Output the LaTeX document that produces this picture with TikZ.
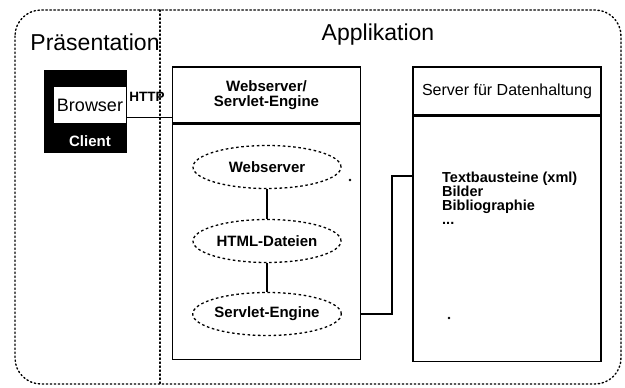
\documentclass[tikz,border=0pt]{standalone}
\usepackage{fontspec}
\setmainfont{Liberation Sans}
\usetikzlibrary{shapes.geometric}

\tikzset{
    outerline/.style={line width=1.4pt, dash pattern=on 1.4pt off 2.6pt, line cap=round},
    tierbox/.style={draw, line width=1.6pt, minimum width=188pt, inner sep=0pt, align=center,
        font=\bfseries\fontsize{15}{15}\selectfont},
    part/.style={draw, ellipse, line width=1.3pt, dash pattern=on 2.6pt off 2.6pt,
        minimum width=148pt, minimum height=43pt, inner sep=0pt, font=\bfseries\fontsize{15}{17}\selectfont},
    tiertitle/.style={anchor=base, inner sep=0pt, font=\fontsize{23}{26}\selectfont},
    link/.style={line width=1.3pt}
}

\begin{document}
\begin{tikzpicture}[x=1pt, y=-1pt]
        \useasboundingbox (0,0) rectangle (625,388);

        % Outer frame and the two tiers
        \draw[outerline, rounded corners=26pt] (15,10) rectangle (621,384);
        \draw[outerline] (160,10) -- (160,384);
        \node[tiertitle] (praes) at (95,50) {Präsentation};
        \node[tiertitle] (appl) at (378,40) {Applikation};

        % Client with browser
        \node[fill=black, minimum width=83pt, minimum height=83pt, inner sep=0pt] (client) at (85.5,111.5) {};
        \node[fill=white, minimum width=72pt, minimum height=36pt, inner sep=0pt,
            font=\fontsize{18}{20}\selectfont] (browser) at (90,105) {Browser};
        \node[text=white, font=\bfseries\fontsize{15}{17}\selectfont] (clientlbl) at (90,141) {Client};

        % Webserver box
        \node[tierbox, minimum height=56pt] (webhead) at (266.5,95) {Webserver/\\Servlet-Engine};
        \node[tierbox, minimum height=235pt, anchor=north] (webbody) at (webhead.south) {};
        \node[part] (ws) at (267,167) {Webserver};
        \node[part] (html) at (267,241) {HTML-Dateien};
        \node[part] (servlet) at (267,314) {Servlet-Engine};

        % Server box
        \node[tierbox, minimum height=48pt, font=\fontsize{16}{16}\selectfont] (srvhead) at (507,91) {Server für Datenhaltung};
        \node[tierbox, minimum height=245pt, anchor=north] (srvbody) at (srvhead.south) {};
        \node[anchor=north west, align=left, inner sep=0pt,
            font=\bfseries\fontsize{14.5}{14}\selectfont] (data) at (442,172)
            {Textbausteine (xml)\\Bilder\\Bibliographie\\...};

        % Connections
        \node[font=\bfseries\fontsize{13.5}{16}\selectfont, inner sep=0pt] (http) at (147,97) {HTTP};
        \draw[link] ([yshift=-6pt]client.east) -- ([yshift=-6pt]client.east -| webhead.west);
        \draw[link] (ws) -- (html);
        \draw[link] (html) -- (servlet);
        \coordinate (bend) at (392,176);
        \draw[link] (webbody.east |- servlet) -| (bend) -- (bend -| srvbody.west);

        % Specks
        \fill (350,180) circle[radius=1.3pt];
        \fill (449,318) circle[radius=1.3pt];
    \end{tikzpicture}
\end{document}
